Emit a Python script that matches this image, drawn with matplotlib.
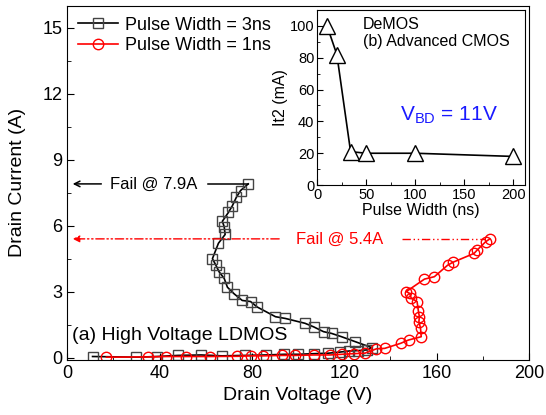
import numpy as np
import matplotlib.pyplot as plt

plt.rcParams['font.family'] = ['Liberation Sans', 'DejaVu Sans']

# 3ns pulse (black squares)
v3 = [11, 30, 39, 48, 58, 67, 77, 86, 94, 100, 107, 113, 118, 122, 126, 130, 132,
      124.6, 118.8, 114.5, 111, 106.7, 103, 94.5, 90.2, 82.3, 79.4, 75.8, 72.3, 69.4,
      68, 65.8, 64.4, 62.9, 65.5, 68.4, 68, 67.2, 69.8, 71.5, 73.3, 75.1, 78.4]
i3 = [0.05, 0.02, 0.05, 0.1, 0.12, 0.08, 0.1, 0.12, 0.15, 0.15, 0.18, 0.2, 0.25, 0.3, 0.32, 0.35, 0.45,
      0.73, 0.95, 1.1, 1.18, 1.4, 1.56, 1.78, 1.86, 2.3, 2.55, 2.6, 2.9, 3.2,
      3.6, 3.9, 4.2, 4.5, 5.2, 5.6, 5.95, 6.2, 6.6, 6.9, 7.3, 7.6, 7.9]

# 1ns pulse (red circles)
v1 = [17, 35, 43, 51.5, 62, 73.7, 79.4, 85, 93, 98.8, 107, 113.8, 118.8, 124, 128.9,
      133.9, 137.5, 144.4, 147.8, 153.3, 153, 152.3, 152.5, 152.1, 151.5, 149, 148.3, 146.8,
      154.7, 159, 164.7, 166.9, 176.2, 177.6, 181.2, 183]
i1 = [0.02, 0.03, 0.05, 0.05, 0.05, 0.06, 0.08, 0.08, 0.1, 0.1, 0.12, 0.12, 0.15, 0.18, 0.2,
      0.4, 0.42, 0.65, 0.8, 0.95, 1.33, 1.64, 1.86, 2.1, 2.55, 2.7, 2.92, 3.0,
      3.57, 3.68, 4.2, 4.33, 4.74, 4.9, 5.27, 5.4]

# inset: It2 vs pulse width
pw = [10, 20, 34, 50, 100, 200]
it2 = [100, 82, 21, 20, 20, 18]

fig = plt.figure(figsize=(5.46, 4.15), dpi=100)
ax = fig.add_axes([0.123, 0.133, 0.846, 0.853])

ax.plot(v3, i3, '-', color='black', lw=1.2, marker='s', ms=6.5, mfc='none',
        mec='#444444', mew=1.0, label='Pulse Width = 3ns')
ax.plot(v1, i1, '-', color='red', lw=1.2, marker='o', ms=7.5, mfc='none',
        mec='red', mew=1.0, label='Pulse Width = 1ns')

ax.set_xlim(0, 200)
ax.set_ylim(-0.1, 16)
ax.set_xticks([0, 40, 80, 120, 160, 200])
ax.set_yticks([0, 3, 6, 9, 12, 15])
ax.set_xticks(np.arange(20, 200, 40), minor=True)
ax.set_yticks(np.arange(1.5, 15, 3), minor=True)
ax.tick_params(which='both', direction='in', labelsize=13, top=False, right=False)
ax.tick_params(which='major', length=5)
ax.tick_params(which='minor', length=3)
ax.set_xlabel('Drain Voltage (V)', fontsize=14, labelpad=4)
ax.set_ylabel('Drain Current (A)', fontsize=14, labelpad=12)

leg = ax.legend(loc='upper left', frameon=False, fontsize=13, handlelength=2.2,
                borderaxespad=0.2, handletextpad=0.4, labelspacing=0.2)

# black fail annotation
ax.annotate('', xy=(1.2, 7.9), xytext=(16, 7.9),
            arrowprops=dict(arrowstyle='->', color='black', lw=1.1))
ax.text(18.5, 7.9, 'Fail @ 7.9A', fontsize=12, va='center', ha='left')
ax.plot([61, 78.4], [7.9, 7.9], color='black', lw=1.1)

# red fail annotation
ax.annotate('', xy=(1.2, 5.4), xytext=(93, 5.4),
            arrowprops=dict(arrowstyle='-|>', color='red', lw=1.0, ls=(0, (6, 2, 1, 2, 1, 2))))
ax.text(99, 5.4, 'Fail @ 5.4A', fontsize=12, va='center', ha='left', color='red')
ax.plot([145, 181], [5.4, 5.4], color='red', lw=1.0, ls=(0, (6, 2, 1, 2, 1, 2)))

ax.text(2, 0.6, '(a) High Voltage LDMOS', fontsize=14, ha='left', va='bottom')

# inset
axi = fig.add_axes([0.581, 0.554, 0.381, 0.422])
axi.plot(pw, it2, '-', color='black', lw=1.2, marker='^', ms=11, mfc='white',
         mec='black', mew=1.0)
axi.set_xlim(0, 212)
axi.set_ylim(0, 110)
axi.set_xticks([0, 50, 100, 150, 200])
axi.set_yticks([0, 20, 40, 60, 80, 100])
axi.set_xticks(np.arange(25, 201, 50), minor=True)
axi.set_yticks(np.arange(10, 110, 20), minor=True)
axi.tick_params(which='both', direction='in', labelsize=10.5, top=False, right=False, pad=2)
axi.tick_params(which='major', length=4)
axi.tick_params(which='minor', length=2)
axi.set_xlabel('Pulse Width (ns)', fontsize=11.5, labelpad=1)
axi.set_ylabel('It2 (mA)', fontsize=11.5, labelpad=1)
axi.text(0.22, 0.96, 'DeMOS\n(b) Advanced CMOS', transform=axi.transAxes, fontsize=11.5,
         ha='left', va='top', linespacing=1.15)
axi.text(0.4, 0.4, r'V$_{\mathregular{BD}}$ = 11V', transform=axi.transAxes, fontsize=15,
         color='#1a1aff', ha='left', va='center')

fig.savefig('out.png', dpi=100)
